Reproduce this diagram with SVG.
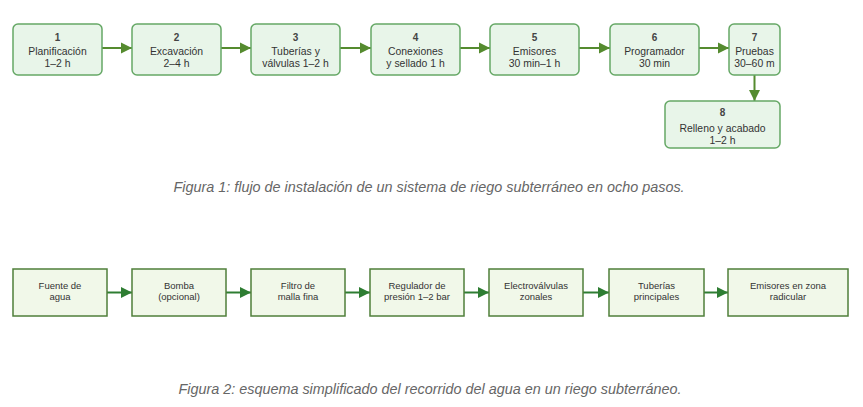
<svg xmlns="http://www.w3.org/2000/svg" width="863" height="407" viewBox="0 0 863 407">
<defs>
<style>
.n1 rect{fill:#e8f5e9;stroke:#66a866;stroke-width:1.5}
.n2 rect{fill:#f1f8e9;stroke:#4f7f3a;stroke-width:1.5}
text{font-family:"Liberation Sans",Arial,sans-serif;fill:#333;text-anchor:middle}
.t1{font-size:10.4px}
.num{font-size:10px;font-weight:bold;fill:#444}
.t2{font-size:9.5px}
.cap{font-size:14.4px;font-style:italic;fill:#666}
.e1{stroke:#558b2f;stroke-width:2;fill:none}
.e2{stroke:#2e7d32;stroke-width:2;fill:none}
</style>
<marker id="a1" viewBox="0 0 10 10" refX="10" refY="5" markerWidth="5.5" markerHeight="6" orient="auto" markerUnits="strokeWidth"><path d="M0,0L10,5L0,10z" fill="#558b2f"/></marker>
<marker id="a2" viewBox="0 0 10 10" refX="10" refY="5" markerWidth="5.5" markerHeight="6" orient="auto" markerUnits="strokeWidth"><path d="M0,0L10,5L0,10z" fill="#2e7d32"/></marker>
</defs>
<rect width="863" height="407" fill="#fff"/>
<g id="connectors1">
<path class="e1" marker-end="url(#a1)" d="M102,48H132"/>
<path class="e1" marker-end="url(#a1)" d="M221,48H251"/>
<path class="e1" marker-end="url(#a1)" d="M340,48H371"/>
<path class="e1" marker-end="url(#a1)" d="M460,48H490"/>
<path class="e1" marker-end="url(#a1)" d="M579,48H610"/>
<path class="e1" marker-end="url(#a1)" d="M699,48H729"/>
<path class="e1" marker-end="url(#a1)" d="M754.5,75V101"/>
</g>
<g id="s1" class="n1"><rect x="13" y="24" width="89" height="51" rx="5"/><text class="num" x="57.5" y="41">1</text><text class="t1" x="57.5" y="55">Planificación</text><text class="t1" x="57.5" y="67">1–2 h</text></g>
<g id="s2" class="n1"><rect x="132" y="24" width="89" height="51" rx="5"/><text class="num" x="176.5" y="41">2</text><text class="t1" x="176.5" y="55">Excavación</text><text class="t1" x="176.5" y="67">2–4 h</text></g>
<g id="s3" class="n1"><rect x="251" y="24" width="89" height="51" rx="5"/><text class="num" x="295.5" y="41">3</text><text class="t1" x="295.5" y="55">Tuberías y</text><text class="t1" x="295.5" y="67">válvulas 1–2 h</text></g>
<g id="s4" class="n1"><rect x="371" y="24" width="89" height="51" rx="5"/><text class="num" x="415.5" y="41">4</text><text class="t1" x="415.5" y="55">Conexiones</text><text class="t1" x="415.5" y="67">y sellado 1 h</text></g>
<g id="s5" class="n1"><rect x="490" y="24" width="89" height="51" rx="5"/><text class="num" x="534.5" y="41">5</text><text class="t1" x="534.5" y="55">Emisores</text><text class="t1" x="534.5" y="67">30 min–1 h</text></g>
<g id="s6" class="n1"><rect x="610" y="24" width="89" height="51" rx="5"/><text class="num" x="654.5" y="41">6</text><text class="t1" x="654.5" y="55">Programador</text><text class="t1" x="654.5" y="67">30 min</text></g>
<g id="s7" class="n1"><rect x="729" y="24" width="51" height="51" rx="5"/><text class="num" x="754.5" y="41">7</text><text class="t1" x="754.5" y="55">Pruebas</text><text class="t1" x="754.5" y="67">30–60 m</text></g>
<g id="s8" class="n1"><rect x="665" y="101" width="115" height="47" rx="5"/><text class="num" x="722.5" y="116">8</text><text class="t1" x="722.5" y="132">Relleno y acabado</text><text class="t1" x="722.5" y="143.5">1–2 h</text></g>
<text class="cap" x="429" y="192">Figura 1: flujo de instalación de un sistema de riego subterráneo en ocho pasos.</text>
<g id="connectors2">
<path class="e2" marker-end="url(#a2)" d="M107,292.5H132"/>
<path class="e2" marker-end="url(#a2)" d="M226,292.5H251"/>
<path class="e2" marker-end="url(#a2)" d="M345,292.5H370"/>
<path class="e2" marker-end="url(#a2)" d="M464,292.5H489"/>
<path class="e2" marker-end="url(#a2)" d="M583,292.5H609"/>
<path class="e2" marker-end="url(#a2)" d="M704,292.5H728"/>
</g>
<g id="f1" class="n2"><rect x="13" y="269" width="94" height="47"/><text class="t2" x="60" y="288.5">Fuente de</text><text class="t2" x="60" y="300">agua</text></g>
<g id="f2" class="n2"><rect x="132" y="269" width="94" height="47"/><text class="t2" x="179" y="288.5">Bomba</text><text class="t2" x="179" y="300">(opcional)</text></g>
<g id="f3" class="n2"><rect x="251" y="269" width="94" height="47"/><text class="t2" x="298" y="288.5">Filtro de</text><text class="t2" x="298" y="300">malla fina</text></g>
<g id="f4" class="n2"><rect x="370" y="269" width="94" height="47"/><text class="t2" x="417" y="288.5">Regulador de</text><text class="t2" x="417" y="300">presión 1–2 bar</text></g>
<g id="f5" class="n2"><rect x="489" y="269" width="94" height="47"/><text class="t2" x="536" y="288.5">Electroválvulas</text><text class="t2" x="536" y="300">zonales</text></g>
<g id="f6" class="n2"><rect x="609" y="269" width="95" height="47"/><text class="t2" x="656.5" y="288.5">Tuberías</text><text class="t2" x="656.5" y="300">principales</text></g>
<g id="f7" class="n2"><rect x="728" y="269" width="120" height="47"/><text class="t2" x="788" y="288.5">Emisores en zona</text><text class="t2" x="788" y="300">radicular</text></g>
<text class="cap" x="430" y="394">Figura 2: esquema simplificado del recorrido del agua en un riego subterráneo.</text>
</svg>
